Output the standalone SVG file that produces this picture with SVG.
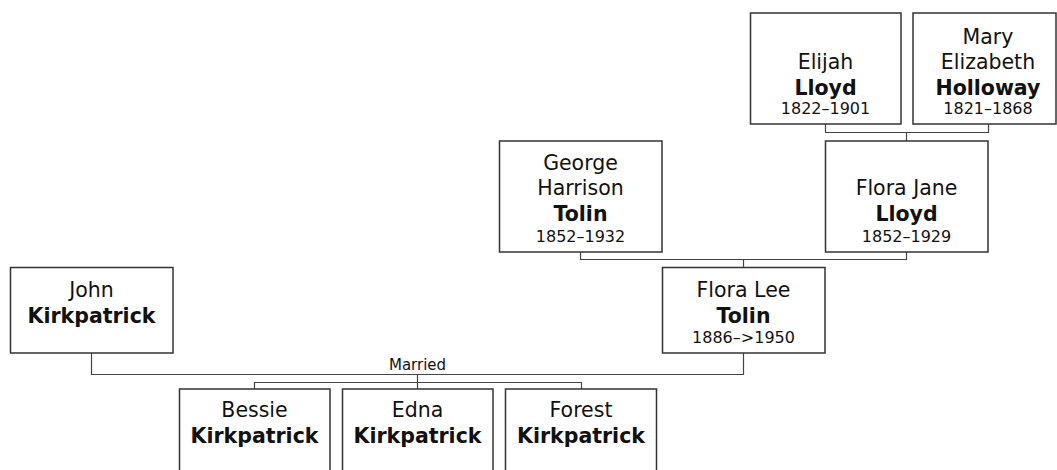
<svg xmlns="http://www.w3.org/2000/svg" width="1057" height="470" viewBox="0 0 1057 470">
<style>
.box{fill:#fff;stroke:#333;stroke-width:1.5}
.con{fill:none;stroke:#444;stroke-width:1.2}
text{font-family:"DejaVu Sans","Verdana",sans-serif;fill:#111;text-anchor:middle}
.n{font-size:20.5px}
.s{font-size:20.5px;font-weight:bold}
.d{font-size:16px}
.m{font-size:15px}
</style>
<rect width="1057" height="470" fill="#fff"/>
<g id="connectors">
<path class="con" d="M825.5,124 V132.5 H988.5 V124 M906.5,132.5 V141"/>
<path class="con" d="M580.5,252 V259.5 H906.5 V252 M743.5,259.5 V267"/>
<path class="con" d="M91.5,353 V374.5 H743.5 V353"/>
<path class="con" d="M417.5,374.5 V389 M254.5,389 V382.5 H581.5 V389"/>
<text class="m" x="417.5" y="370">Married</text>
</g>
<g id="elijah">
<rect class="box" x="750.5" y="13" width="150.5" height="111"/>
<text class="n" x="825.5" y="69">Elijah</text>
<text class="s" x="825.5" y="94.5">Lloyd</text>
<text class="d" x="825.5" y="114">1822–1901</text>
</g>
<g id="mary">
<rect class="box" x="913" y="13" width="143" height="111"/>
<text class="n" x="988" y="44">Mary</text>
<text class="n" x="988" y="69">Elizabeth</text>
<text class="s" x="988" y="94.5">Holloway</text>
<text class="d" x="988" y="114">1821–1868</text>
</g>
<g id="george">
<rect class="box" x="499.5" y="141" width="162.5" height="111"/>
<text class="n" x="580.5" y="169.5">George</text>
<text class="n" x="580.5" y="195">Harrison</text>
<text class="s" x="580.5" y="221">Tolin</text>
<text class="d" x="580.5" y="242">1852–1932</text>
</g>
<g id="florajane">
<rect class="box" x="825.5" y="141" width="162.5" height="111"/>
<text class="n" x="906.5" y="195">Flora Jane</text>
<text class="s" x="906.5" y="221">Lloyd</text>
<text class="d" x="906.5" y="242">1852–1929</text>
</g>
<g id="john">
<rect class="box" x="10.5" y="267.5" width="162.5" height="85.5"/>
<text class="n" x="91.5" y="297">John</text>
<text class="s" x="91.5" y="322.5">Kirkpatrick</text>
</g>
<g id="floralee">
<rect class="box" x="662.5" y="267.5" width="162.5" height="85.5"/>
<text class="n" x="743.5" y="297">Flora Lee</text>
<text class="s" x="743.5" y="322.5">Tolin</text>
<text class="d" x="743.5" y="342.5">1886–&gt;1950</text>
</g>
<g id="bessie">
<rect class="box" x="179.5" y="389" width="150.5" height="110"/>
<text class="n" x="254.5" y="417">Bessie</text>
<text class="s" x="254.5" y="443">Kirkpatrick</text>
</g>
<g id="edna">
<rect class="box" x="342.5" y="389" width="150.5" height="110"/>
<text class="n" x="417.5" y="417">Edna</text>
<text class="s" x="417.5" y="443">Kirkpatrick</text>
</g>
<g id="forest">
<rect class="box" x="505.5" y="389" width="151" height="110"/>
<text class="n" x="581" y="417">Forest</text>
<text class="s" x="581" y="443">Kirkpatrick</text>
</g>
</svg>
